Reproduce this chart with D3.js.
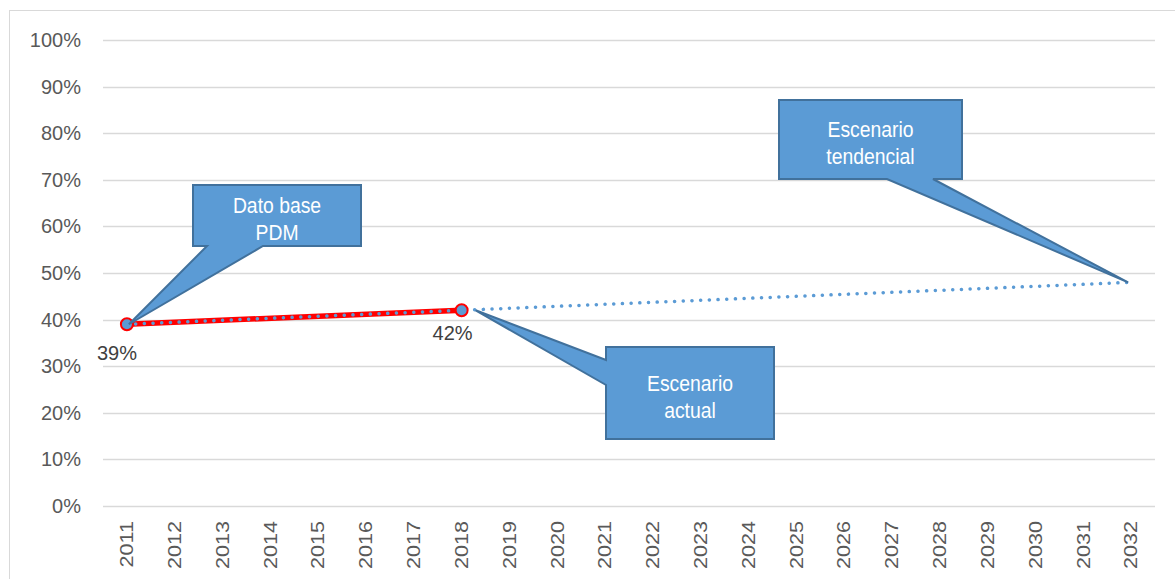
<!DOCTYPE html>
<html><head><meta charset="utf-8">
<script src="https://cdn.jsdelivr.net/npm/d3@7"></script>
<style>body{margin:0;background:#fff}svg{display:block}</style>
</head><body><svg id="c" width="1175" height="579"></svg>
<script>
const years = ["2011","2012","2013","2014","2015","2016","2017","2018","2019","2020","2021","2022","2023","2024","2025","2026","2027","2028","2029","2030","2031","2032"];
const yTicks = [0,0.1,0.2,0.3,0.4,0.5,0.6,0.7,0.8,0.9,1.0];
const actualYears = ["2011","2018"];
const actualValues = [0.39,0.42];
const trendYears = ["2011","2018","2032"];
const trendValues = [0.39,0.42,0.48];
const calloutTexts = [["Dato base","PDM"],["Escenario","actual"],["Escenario","tendencial"]];

const svg = d3.select("#c");
const font = "'Liberation Sans', Arial, sans-serif";
svg.append("rect").attr("x",9.5).attr("y",10.5).attr("width",1180).attr("height",580)
  .attr("fill","#fff").attr("stroke","#d9d9d9");

const x = d3.scaleBand().domain(years).range([103,1155]);
const y = d3.scaleLinear().domain([0,1]).range([506,40]);
const cx = d => x(d)+x.bandwidth()/2;

// grid
svg.append("g").selectAll("line").data(yTicks).join("line")
  .attr("x1",103).attr("x2",1155).attr("y1",d=>Math.round(y(d))+0.5).attr("y2",d=>Math.round(y(d))+0.5)
  .attr("stroke","#d9d9d9").attr("stroke-width",1.3);

// y axis
const yAxis = d3.axisLeft(y).tickValues(yTicks).tickFormat(d3.format(".0%")).tickSize(0).tickPadding(0);
const ya = svg.append("g").attr("transform","translate(81,0)").call(yAxis);
ya.select(".domain").remove();
ya.selectAll("text").attr("font-family",font).attr("font-size",20).attr("fill","#595959");

// x axis
const xAxis = d3.axisBottom(x).tickSize(0);
const xa = svg.append("g").attr("transform","translate(0,506)").call(xAxis);
xa.select(".domain").remove();
xa.selectAll("text").attr("font-family",font).attr("font-size",20).attr("fill","#595959")
  .attr("text-anchor","end").attr("transform","translate(0,15) rotate(-90) scale(1.08,0.9)").attr("x",0).attr("y",0).attr("dy","0.35em");

// actual line
const line = d3.line().x(d=>cx(d[0])).y(d=>y(d[1]));
svg.append("path").datum(actualYears.map((d,i)=>[d,actualValues[i]]))
  .attr("d",line).attr("fill","none").attr("stroke","#ff0000").attr("stroke-width",5.5);
// trend dotted
svg.append("path").datum(trendYears.map((d,i)=>[d,trendValues[i]]))
  .attr("d",line).attr("fill","none").attr("stroke","#5B9BD5").attr("stroke-width",3.5)
  .attr("stroke-linecap","round").attr("stroke-dasharray","0.1 8.6");
// markers
svg.append("g").selectAll("circle").data(actualYears.map((d,i)=>[d,actualValues[i]])).join("circle")
  .attr("cx",d=>cx(d[0])).attr("cy",d=>y(d[1])).attr("r",6)
  .attr("fill","#5B9BD5").attr("stroke","#ff0000").attr("stroke-width",2);
// data labels
const lblOff = [[-10,36],[-9,30]];
svg.append("g").selectAll("text").data(actualYears.map((d,i)=>[d,actualValues[i]])).join("text")
  .attr("x",(d,i)=>cx(d[0])+lblOff[i][0]).attr("y",(d,i)=>y(d[1])+lblOff[i][1])
  .attr("text-anchor","middle").attr("font-family",font).attr("font-size",20).attr("fill","#404040")
  .text(d=>d3.format(".0%")(d[1]));

// callouts
function callout(rx,ry,rw,rh,tail,tip,lines){
  const g = svg.append("g");
  let pts;
  if(tail.side==="bottom"){
    pts=[[rx,ry],[rx+rw,ry],[rx+rw,ry+rh],[tail.b,ry+rh],tip,[tail.a,ry+rh],[rx,ry+rh]];
  } else {
    pts=[[rx,ry],[rx+rw,ry],[rx+rw,ry+rh],[rx,ry+rh],[rx,tail.b],tip,[rx,tail.a]];
  }
  g.append("path").attr("d","M"+pts.map(p=>p.join(",")).join("L")+"Z")
    .attr("fill","#5B9BD5").attr("stroke","#41719C").attr("stroke-width",2).attr("stroke-linejoin","miter");
  g.selectAll("text").data(lines).join("text")
    .attr("transform",(d,i)=>`translate(${rx+rw/2},${ry+rh/2+(i-(lines.length-1)/2)*27+11}) scale(0.88,1)`)
    .attr("text-anchor","middle").attr("font-family",font).attr("font-size",22).attr("fill","#fff").text(d=>d);
}
callout(193,185,168,61,{side:"bottom",a:207,b:263},[cx("2011")+2,y(0.39)],calloutTexts[0]);
callout(606,347,168,92,{side:"left",a:360,b:385},[cx("2018")+14,y(0.42)],calloutTexts[1]);
callout(779,100,183,79,{side:"bottom",a:887,b:933},[cx("2032")-3,y(0.48)],calloutTexts[2]);
</script></body></html>
